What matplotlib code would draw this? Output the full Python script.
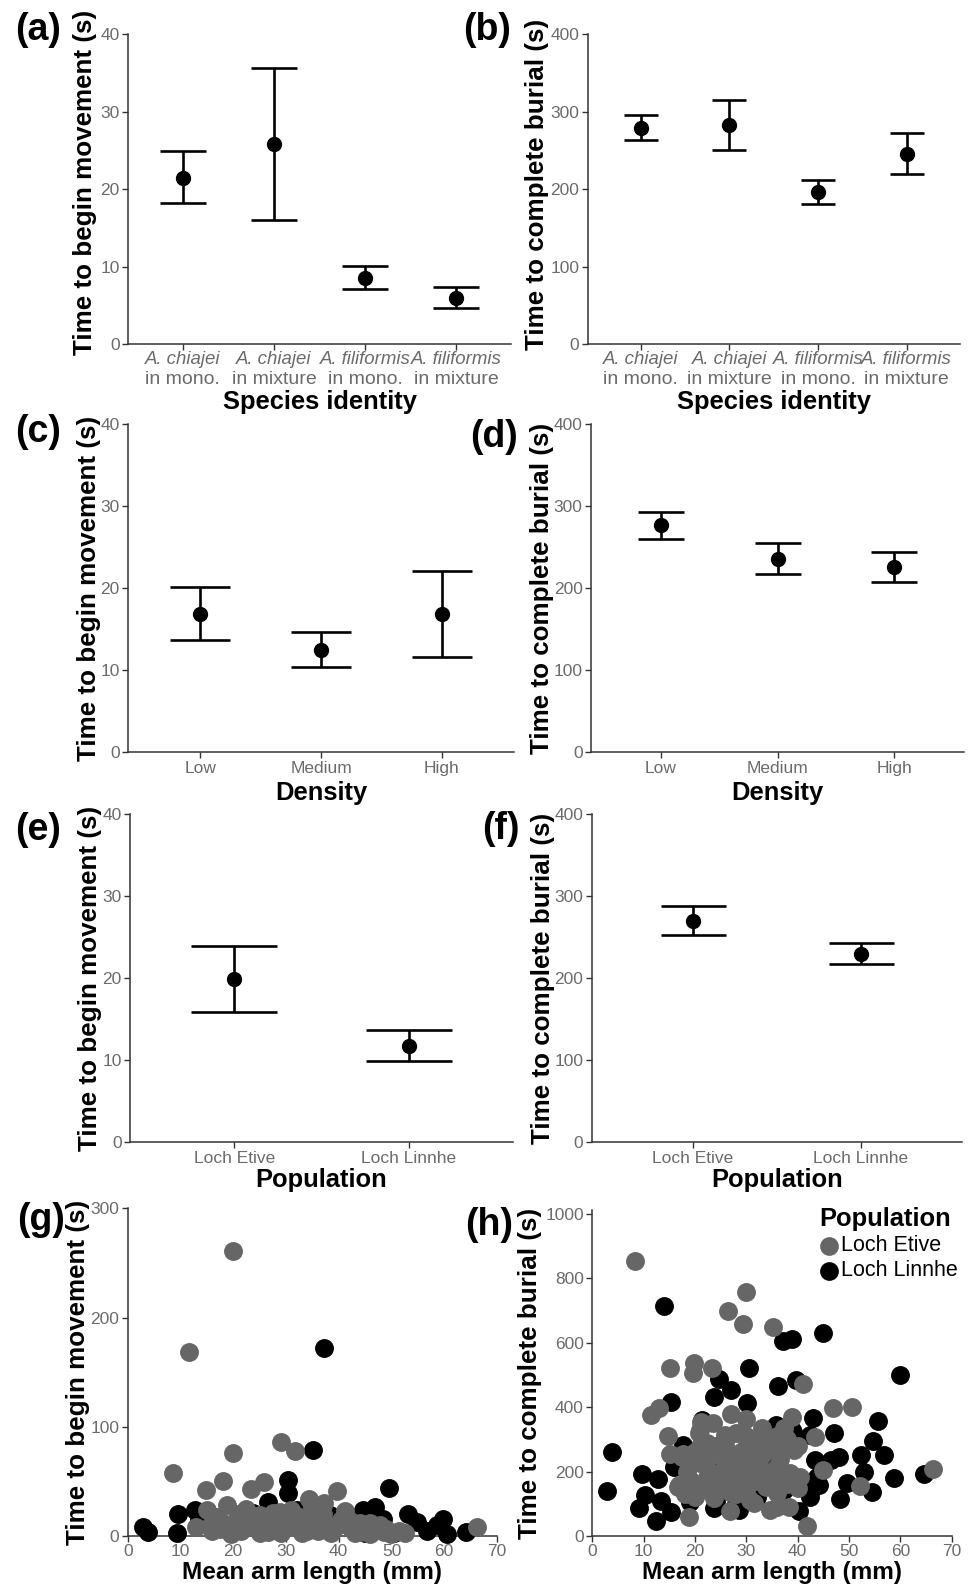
import numpy as np
import matplotlib
matplotlib.use("Agg")
import matplotlib.pyplot as plt
from matplotlib.lines import Line2D

plt.rcParams['font.family'] = ['Liberation Sans', 'DejaVu Sans']

# ---------------- data ----------------
species_names = ['A. chiajei', 'A. chiajei', 'A. filiformis', 'A. filiformis']
species_context = ['in mono.', 'in mixture', 'in mono.', 'in mixture']
move_species_mean = [21.4, 25.9, 8.6, 6.0]
move_species_lo = [18.2, 16.1, 7.1, 4.7]
move_species_hi = [24.9, 35.7, 10.1, 7.35]
burial_species_mean = [279.6, 283.0, 196.1, 245.6]
burial_species_lo = [263.2, 250.8, 180.6, 219.4]
burial_species_hi = [295.9, 315.7, 212.0, 272.3]

density_levels = ['Low', 'Medium', 'High']
move_density_mean = [16.9, 12.5, 16.8]
move_density_lo = [13.7, 10.4, 11.6]
move_density_hi = [20.2, 14.6, 22.1]
burial_density_mean = [276.5, 235.5, 225.4]
burial_density_lo = [259.9, 217.7, 207.5]
burial_density_hi = [293.2, 255.0, 244.5]

populations = ['Loch Etive', 'Loch Linnhe']
move_pop_mean = [19.9, 11.7]
move_pop_lo = [15.9, 9.9]
move_pop_hi = [23.9, 13.7]
burial_pop_mean = [270.0, 229.4]
burial_pop_lo = [253.0, 217.3]
burial_pop_hi = [287.5, 243.2]

# individual brittlestars: arm length (mm) vs time to begin movement (s)
etive_arm_move = [8.5, 11.6, 13.0, 14.8, 15.1, 16.9, 18.0, 18.8, 19.9, 20.0, 20.6, 21.5, 22.0,
                  23.3, 24.0, 25.0, 25.8, 26.5, 27.0, 28.8, 29.0, 29.5, 30.0, 31.7, 32.5, 33.0,
                  34.4, 34.2, 35.5, 36.0, 37.2, 37.7, 38.5, 39.7, 40.5, 41.2, 42.1, 43.0, 44.0,
                  45.3, 46.0, 47.8, 48.5, 51.5, 52.5, 66.3, 17.5, 19.5, 22.5, 27.5, 31.0, 25.0,
                  15.8, 35.0, 16.0, 18.0, 20.0, 21.0, 23.0, 24.0, 26.0, 28.0, 29.0, 31.0, 32.0,
                  33.0, 34.0, 36.0, 37.0, 39.0, 40.0, 42.0, 44.0, 46.0, 49.0, 50.0]
etive_move = [58, 168, 8, 42, 24, 17, 50, 28, 261, 76, 12, 5, 17,
              43, 8, 19, 49, 4, 12, 22, 86, 6, 15, 78, 10, 3,
              34, 12, 20, 5, 30, 10, 3, 41, 15, 23, 8, 3, 12,
              7, 2, 10, 4, 5, 3, 8, 6, 2, 25, 21, 24, 3,
              10, 27, 5, 12, 8, 20, 10, 15, 8, 14, 3, 8, 18,
              12, 5, 14, 20, 6, 10, 15, 4, 12, 6, 2]
linnhe_arm_move = [2.9, 3.9, 9.3, 9.6, 12.8, 17.0, 20.5, 23.8, 26.6, 27.5, 30.4, 30.4, 32.0,
                   33.5, 35.2, 37.3, 38.3, 38.8, 41.5, 43.4, 44.6, 46.9, 48.4, 49.6, 50.5, 53.2,
                   54.8, 56.7, 58.6, 59.8, 64.2, 60.5, 45.0, 25.0, 13.5]
linnhe_move = [8, 4, 2.5, 20, 24, 14, 12, 21, 31, 6, 51, 39, 24,
               14, 79, 172, 19, 6, 10, 15, 24, 27, 16, 44, 3, 20,
               13, 5, 10, 16, 4, 2, 3, 15, 15]

# arm length (mm) vs time to complete burial (s)
etive_arm_burial = [8.4, 29.9, 26.5, 29.4, 35.1, 15.1, 19.8, 19.7, 23.4, 41.1,
                    11.5, 13.0, 27.1, 29.9, 33.1, 37.3, 38.8, 46.9, 50.5,
                    14.8, 43.4, 45.0, 52.1, 66.4, 41.8, 18.9, 26.8, 34.7, 38.3,
                    31.5, 23.7, 21.1, 23.6, 20.8, 15.1, 17.7, 16.8, 19.0, 21.0,
                    25.9, 22.3, 21.0, 22.3, 21.0, 24.2, 26.8, 28.1, 30.1, 32.0,
                    34.6, 33.9, 30.7, 35.9, 35.3, 37.2, 39.2, 35.9, 38.5, 40.4,
                    35.9, 19.2, 16.6, 17.5, 24.5, 27.0, 29.0, 31.0, 26.0, 28.5,
                    33.0, 36.5, 23.0, 25.5, 18.5,
                    18.0, 20.0, 22.0, 24.0, 26.0, 28.0, 30.0, 32.0, 34.0, 36.0,
                    38.0, 40.0, 20.0, 22.0, 24.0, 26.0, 28.0, 30.0, 32.0, 34.0,
                    36.0, 38.0, 40.0, 25.0, 27.0, 29.0, 31.0, 33.0, 19.0, 21.0]
etive_burial = [855, 757, 699, 658, 650, 521, 536, 505, 521, 472,
                376, 396, 379, 362, 334, 334, 368, 398, 402,
                310, 306, 205, 155, 207, 30, 58, 78, 80, 90,
                101, 117, 355, 350, 319, 255, 255, 158, 174, 329,
                314, 288, 226, 184, 143, 164, 138, 184, 288, 226,
                277, 153, 112, 132, 288, 277, 267, 215, 195, 184,
                91, 164, 153, 246, 250, 230, 260, 200, 270, 215,
                250, 240, 200, 180, 200,
                130, 120, 150, 140, 160, 130, 140, 170, 200, 180,
                160, 150, 260, 240, 280, 300, 320, 310, 290, 300,
                310, 300, 280, 200, 190, 170, 250, 270, 230, 280]
linnhe_arm_burial = [2.9, 3.8, 14.0, 37.1, 38.9, 45.0, 30.5, 24.7, 27.1, 23.7,
                     30.2, 15.4, 36.2, 39.6, 59.9, 42.9, 55.6, 47.1, 54.7, 52.4,
                     56.9, 48.1, 52.9, 58.7, 64.6, 49.6, 48.3, 54.4, 42.4, 40.3,
                     9.6, 12.8, 10.3, 9.0, 13.4, 15.4, 12.4, 17.6, 16.0, 43.3,
                     43.8, 42.5, 37.3, 23.7, 28.6, 19.1, 21.4, 38.9, 35.7, 27.5,
                     25.5, 30.1, 32.7, 30.7, 44.1, 46.4, 39.1, 42.4, 32.0, 28.0, 34.0,
                     26.0, 29.0, 31.0, 35.0, 24.0, 37.0]
linnhe_burial = [140, 262, 715, 606, 611, 629, 521, 487, 453, 431,
                 414, 417, 466, 484, 500, 365, 358, 319, 296, 252,
                 252, 246, 200, 180, 194, 165, 115, 138, 122, 78,
                 193, 177, 127, 87, 110, 74, 47, 283, 213, 236,
                 184, 143, 143, 88, 81, 107, 360, 329, 345, 246,
                 215, 153, 210, 267, 158, 236, 324, 314, 120, 100, 175,
                 180, 210, 180, 230, 110, 190]

# ---------------- layout helpers ----------------
W, H = 968, 1584
fig = plt.figure(figsize=(W / 100, H / 100), dpi=100)

AXIS_COL = '#333333'
TICK_COL = '#6b6b6b'
GREY_PT = '#666666'
YTITLE_SIZE = 18.7
XTITLE_SIZE = 18.4
TICK_SIZE = 12.5
CAT_SIZE = 12.5
PT_SIZE = 185


def add_panel(x0, x1, ytop, ybot):
    ax = fig.add_axes([x0 / W, 1 - ybot / H, (x1 - x0) / W, (ybot - ytop) / H])
    for s in ('top', 'right'):
        ax.spines[s].set_visible(False)
    for s in ('left', 'bottom'):
        ax.spines[s].set_color(AXIS_COL)
        ax.spines[s].set_linewidth(1.1)
    ax.tick_params(color=AXIS_COL, length=4, width=1, labelcolor=TICK_COL,
                   labelsize=TICK_SIZE, pad=2)
    ax.box = (x0, x1, ytop, ybot)
    return ax


def set_labels(ax, xlabel, ylabel, xlab_y, ylab_x, ylab_c=None, xsize=XTITLE_SIZE):
    x0, x1, ytop, ybot = ax.box
    yfrac = 0.5 if ylab_c is None else (ybot - ylab_c) / (ybot - ytop)
    ax.set_ylabel(ylabel, fontsize=YTITLE_SIZE, fontweight='bold', va='center')
    ax.yaxis.set_label_coords((ylab_x - x0) / (x1 - x0), yfrac)
    ax.set_xlabel(xlabel, fontsize=xsize, fontweight='bold', va='center')
    ax.xaxis.set_label_coords(0.5, (ybot - xlab_y) / (ybot - ytop))


def summary(ax, cats, mean, lo, hi, ymax, cap_px):
    x = np.arange(1, len(cats) + 1)
    mean = np.asarray(mean)
    yerr = [mean - np.asarray(lo), np.asarray(hi) - mean]
    ax.errorbar(x, mean, yerr=yerr, fmt='o', color='black', ms=10,
                elinewidth=1.9, capsize=cap_px * 0.72 / 2, capthick=1.9)
    ax.set_xlim(0.4, len(cats) + 0.6)
    ax.set_ylim(0, ymax)
    ax.set_xticks(x)
    ax.set_yticks(np.linspace(0, ymax, 5))


def species_ticks(ax):
    x0, x1, ytop, ybot = ax.box
    ax.set_xticklabels([])
    tr = ax.get_xaxis_transform()
    for i, (sp, ctx) in enumerate(zip(species_names, species_context), start=1):
        ax.text(i, (ybot - 360) / (ybot - ytop), sp, transform=tr, ha='center', va='center',
                fontsize=13.4, style='italic', color=TICK_COL)
        ax.text(i, (ybot - 379) / (ybot - ytop), ctx, transform=tr, ha='center', va='center',
                fontsize=14.0, color=TICK_COL)


# (a) movement by species identity
ax = add_panel(128, 511, 34.3, 344.3)
summary(ax, species_names, move_species_mean, move_species_lo, move_species_hi, 40, 45.7)
species_ticks(ax)
set_labels(ax, 'Species identity', 'Time to begin movement (s)', 402, 85, ylab_c=182)

# (b) burial by species identity
ax = add_panel(587.5, 960, 34.3, 344.3)
summary(ax, species_names, burial_species_mean, burial_species_lo, burial_species_hi, 400, 34)
species_ticks(ax)
set_labels(ax, 'Species identity', 'Time to complete burial (s)', 402, 537, ylab_c=184)

# (c) movement by density
ax = add_panel(128, 514, 424, 752.3)
summary(ax, density_levels, move_density_mean, move_density_lo, move_density_hi, 40, 60.4)
ax.set_xticklabels(density_levels, fontsize=CAT_SIZE)
set_labels(ax, 'Density', 'Time to begin movement (s)', 793, 89)

# (d) burial by density
ax = add_panel(591, 964, 424, 752.3)
summary(ax, density_levels, burial_density_mean, burial_density_lo, burial_density_hi, 400, 46)
ax.set_xticklabels(density_levels, fontsize=CAT_SIZE)
set_labels(ax, 'Density', 'Time to complete burial (s)', 793, 542)

# (e) movement by population
ax = add_panel(130, 513, 814, 1142.3)
summary(ax, populations, move_pop_mean, move_pop_lo, move_pop_hi, 40, 85.9)
ax.set_xticklabels(populations, fontsize=CAT_SIZE)
set_labels(ax, 'Population', 'Time to begin movement (s)', 1180, 90)

# (f) burial by population
ax = add_panel(591.5, 962, 814, 1142.3)
summary(ax, populations, burial_pop_mean, burial_pop_lo, burial_pop_hi, 400, 65)
ax.set_xticklabels(populations, fontsize=CAT_SIZE)
set_labels(ax, 'Population', 'Time to complete burial (s)', 1180, 543)

# (g) movement vs arm length
ax = add_panel(127.7, 497, 1208.3, 1536)
ax.scatter(linnhe_arm_move, linnhe_move, s=PT_SIZE, color='black', linewidths=0, zorder=3, clip_on=False)
ax.scatter(etive_arm_move, etive_move, s=PT_SIZE, color=GREY_PT, linewidths=0, zorder=3, clip_on=False)
ax.set_xlim(0, 70)
ax.set_ylim(0, 300)
ax.set_xticks(np.arange(0, 71, 10))
ax.set_yticks([0, 100, 200, 300])
set_labels(ax, 'Mean arm length (mm)', 'Time to begin movement (s)', 1573, 78, xsize=17.6)

# (h) burial vs arm length
ax = add_panel(592.3, 951.7, 1210, 1536)
ax.scatter(linnhe_arm_burial, linnhe_burial, s=PT_SIZE, color='black', linewidths=0, zorder=3, clip_on=False)
ax.scatter(etive_arm_burial, etive_burial, s=PT_SIZE, color=GREY_PT, linewidths=0, zorder=3, clip_on=False)
ax.set_xlim(0, 70)
ax.set_ylim(0, 1012)
ax.set_xticks(np.arange(0, 71, 10))
ax.set_yticks(np.arange(0, 1001, 200))
set_labels(ax, 'Mean arm length (mm)', 'Time to complete burial (s)', 1573, 530, xsize=17.6)

# legend for the population colours
fig.text(819 / W, 1 - 1219 / H, 'Population', fontsize=XTITLE_SIZE, fontweight='bold',
         va='center', ha='left')
for label, col, yy in [(populations[0], GREY_PT, 1245.7), (populations[1], 'black', 1270.7)]:
    fig.add_artist(Line2D([829 / W], [1 - yy / H], marker='o', ms=13.5, color=col,
                          markeredgewidth=0, linestyle='none', transform=fig.transFigure))
    fig.text(841 / W, 1 - yy / H, label, fontsize=15.5, va='center', ha='left')

# panel letters
for letter, px, py in [('(a)', 15, 30), ('(b)', 463, 30), ('(c)', 15, 432), ('(d)', 470, 437),
                       ('(e)', 15, 830), ('(f)', 482, 829), ('(g)', 17, 1220), ('(h)', 465, 1225)]:
    fig.text(px / W, 1 - py / H, letter, fontsize=27, fontweight='bold', va='center', ha='left')

fig.savefig('out.png', dpi=100, facecolor='white')
